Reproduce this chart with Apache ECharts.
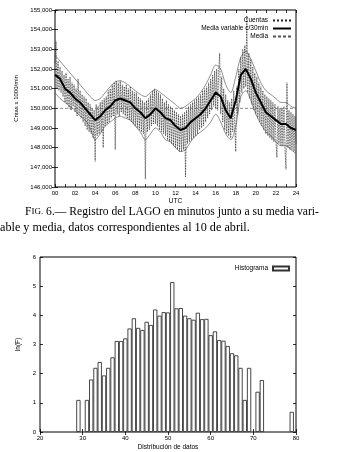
<!DOCTYPE html>
<html>
<head>
<meta charset="utf-8">
<script src="https://cdn.jsdelivr.net/npm/echarts@6/dist/echarts.min.js"></script>
<style>
html, body { margin: 0; padding: 0; background: #fff; }
#box { width: 340px; height: 452px; }
</style>
</head>
<body>
<div id="box"></div>
<script>
// --- datos: registro del LAGO (cuentas por minuto, muestreado cada 0.1 h) ---
var cuentas = [
  152300, 153400, 151000, 152400, 150900, 152100, 150800, 151900, 150600, 151700,
  150300, 151800, 150200, 151500, 150000, 151600, 149900, 151300, 150100, 151200,
  149800, 151000, 149600, 151500, 149700, 150900, 149500, 150700, 149300, 150600,
  149100, 150500, 148900, 150300, 148800, 150200, 148700, 150000, 148500, 149900,
  147300, 150200, 148600, 150100, 148700, 150300, 148800, 150400, 148000, 150500,
  149100, 150600, 149200, 150900, 149300, 151000, 149500, 151200, 149600, 151300,
  147900, 151400, 149700, 151300, 149600, 151400, 149800, 151200, 149700, 151100,
  149600, 151200, 149500, 151000, 149400, 151100, 149300, 150900, 149200, 150800,
  149100, 150800, 149000, 150600, 148900, 150500, 148800, 150400, 148700, 150300,
  146400, 150400, 148800, 150500, 148900, 150700, 149100, 150900, 149200, 151000,
  149200, 150900, 149100, 150800, 148900, 150700, 148800, 150500, 148700, 150300,
  148600, 150400, 148400, 150200, 148300, 150100, 148200, 150000, 148100, 149900,
  148000, 149800, 147900, 149700, 147800, 149600, 147800, 149700, 147900, 149800,
  146500, 149900, 148200, 150100, 148300, 150200, 148400, 150300, 148500, 150400,
  148600, 150500, 148700, 150600, 148900, 150700, 149000, 150900, 149100, 151000,
  149300, 151100, 149500, 151300, 149700, 151500, 149900, 151700, 150100, 151900,
  150000, 152000, 149900, 151900, 152800, 149700, 151600, 149300, 151000, 148900,
  150700, 148700, 150400, 148600, 150300, 148500, 150500, 148800, 150900, 149200,
  147800, 151100, 149700, 152000, 150300, 152600, 150800, 153000, 151000, 153200,
  151100, 154700, 150800, 152800, 150500, 152500, 150200, 152100, 149900, 151800,
  149700, 151600, 149500, 151300, 149300, 151100, 149100, 150900, 148900, 150700,
  148700, 150600, 148600, 150500, 148500, 150400, 148400, 150300, 148300, 150200,
  148300, 147500, 150100, 148200, 150000, 148100, 150000, 148100, 150100, 148000,
  146900, 151300, 148000, 149900, 147900, 149800, 147900, 149700, 147800, 149600,
  148200
];
// media variable cada 30 min (0, 0.5, ... 24 h)
var mediaVar = [
  151700, 151500, 151000, 150800, 150500, 150300, 150000, 149700, 149400, 149600,
  149900, 150100, 150400, 150500, 150400, 150300, 150000, 149800, 149500, 149700,
  150000, 149800, 149500, 149400, 149100, 148900, 149000, 149300, 149500, 149700,
  150000, 150400, 150800, 150600, 149900, 149500, 150400, 151700, 152000, 151500,
  150800, 150300, 149800, 149600, 149400, 149200, 149200, 149000, 148900
];
var bandaSup = [
  152700, 152400, 152100, 151800, 151500, 151200, 150900, 150600, 150400, 150500,
  150800, 151100, 151350, 151400, 151300, 151100, 150900, 150700, 150600, 150800,
  150950, 150800, 150600, 150400, 150200, 150000, 150100, 150300, 150500, 150800,
  151200, 151700, 152200, 152000, 151200, 150800, 151600, 152600, 152900, 152500,
  151900, 151300, 150900, 150700, 150500, 150300, 150300, 150100, 150000
];
var bandaInf = [
  150800, 150500, 150300, 150100, 149900, 149600, 149400, 149000, 148400, 148700,
  149100, 149300, 149500, 149600, 149500, 149400, 149100, 148800, 148400, 148700,
  149000, 148800, 148400, 148300, 148000, 147800, 147900, 148300, 148600, 148800,
  149000, 149300, 149700, 149300, 148700, 148400, 149100, 150600, 150900, 150400,
  149700, 149200, 148800, 148600, 148300, 148100, 148100, 147900, 147700
];
var media = 150000;

// --- histograma ln(F) ---
var histX = [29, 31, 32, 33, 34, 35, 36, 37, 38, 39, 40, 41, 42, 43, 44, 45, 46, 47, 48, 49, 50,
  51, 52, 53, 54, 55, 56, 57, 58, 59, 60, 61, 62, 63, 64, 65, 66, 67, 68, 69, 71, 72, 79];
var histY = [1.1, 1.1, 1.8, 2.2, 2.4, 1.94, 2.2, 2.56, 3.12, 3.12, 3.21, 3.55, 3.9, 3.57, 3.5, 3.78, 3.67, 4.2, 3.99, 4.11, 4.1,
  5.14, 4.24, 4.25, 3.99, 3.9, 3.85, 4.09, 3.87, 3.88, 3.32, 3.45, 3.15, 3.13, 2.95, 2.7, 2.63, 2.2, 1.1, 2.2, 1.38, 1.78, 0.69];

var myChart = echarts.init(document.getElementById('box'));

function pares(arr, paso) {
  var out = [];
  for (var i = 0; i < arr.length; i++) out.push([i * paso, arr[i]]);
  return out;
}
var histData = histX.map(function (x, i) { return [x, histY[i]]; });

var sans = 'Liberation Sans';
var lbl = { fontSize: 6, color: '#000', fontFamily: sans };
var tick = { show: true, inside: true, length: 3, lineStyle: { color: '#000', width: 0.8 } };
var noLine = { show: false };

function eje(extra) {
  var base = {
    type: 'value', axisLine: noLine, axisTick: tick, splitLine: { show: false },
    axisLabel: Object.assign({ margin: 3 }, lbl)
  };
  return Object.assign(base, extra);
}

var option = {
  animation: false,
  backgroundColor: '#fff',
  grid: [
    { left: 55, top: 10, width: 241, height: 177, show: true, borderColor: '#000', borderWidth: 1, backgroundColor: 'transparent' },
    { left: 40, top: 257, width: 256, height: 177, show: true, borderColor: '#000', borderWidth: 1, backgroundColor: 'transparent' }
  ],
  legend: [
    {
      data: ['Cuentas', 'Media variable c/30min', 'Media'],
      right: 43, top: 12, orient: 'vertical', align: 'right',
      itemWidth: 18, itemHeight: 5, itemGap: 1,
      itemStyle: { opacity: 0 },
      textStyle: { fontSize: 6.5, fontFamily: sans, color: '#000' }
    },
    {
      data: ['Histograma'],
      right: 45, top: 260, align: 'right', icon: 'rect',
      itemWidth: 16, itemHeight: 4,
      textStyle: { fontSize: 6.5, fontFamily: sans, color: '#000' }
    }
  ],
  xAxis: [
    eje({ gridIndex: 0, min: 0, max: 24, interval: 1, position: 'bottom',
      name: 'UTC', nameLocation: 'middle', nameGap: 11,
      nameTextStyle: { fontSize: 6.5, fontFamily: sans, color: '#000' },
      axisLabel: Object.assign({ margin: 3, formatter: function (v) { return v % 2 ? '' : (v < 10 ? '0' + v : '' + v); } }, lbl) }),
    eje({ gridIndex: 0, min: 0, max: 24, interval: 1, position: 'top', axisLabel: { show: false } }),
    eje({ gridIndex: 1, min: 20, max: 80, interval: 10, position: 'bottom',
      name: 'Distribución de datos', nameLocation: 'middle', nameGap: 12,
      nameTextStyle: { fontSize: 6.5, fontFamily: sans, color: '#000' } }),
    eje({ gridIndex: 1, min: 20, max: 80, interval: 10, position: 'top', axisLabel: { show: false } })
  ],
  yAxis: [
    eje({ gridIndex: 0, min: 146000, max: 155000, interval: 1000, position: 'left',
      name: 'Cntas x 1000/min', nameLocation: 'middle', nameGap: 26,
      nameTextStyle: { fontSize: 6, fontFamily: sans, color: '#000' } }),
    eje({ gridIndex: 0, min: 146000, max: 155000, interval: 1000, position: 'right', axisLabel: { show: false } }),
    eje({ gridIndex: 1, min: 0, max: 6, interval: 1, position: 'left',
      name: 'ln(F)', nameLocation: 'middle', nameGap: 15,
      nameTextStyle: { fontSize: 6.5, fontFamily: sans, color: '#000' },
      axisLabel: Object.assign({ margin: 4 }, lbl) }),
    eje({ gridIndex: 1, min: 0, max: 6, interval: 1, position: 'right', axisLabel: { show: false } })
  ],
  series: [
    {
      name: 'Cuentas', type: 'line', xAxisIndex: 0, yAxisIndex: 0, symbol: 'none',
      data: pares(cuentas, 0.1), color: '#222', itemStyle: { color: '#222' },
      lineStyle: { color: '#222', width: 0.8, type: 'dotted' }, z: 2
    },
    {
      name: 'banda sup', type: 'line', xAxisIndex: 0, yAxisIndex: 0, symbol: 'none', smooth: 0.3,
      data: pares(bandaSup, 0.5), color: '#444', lineStyle: { color: '#444', width: 0.6 }, z: 3
    },
    {
      name: 'banda inf', type: 'line', xAxisIndex: 0, yAxisIndex: 0, symbol: 'none', smooth: 0.3,
      data: pares(bandaInf, 0.5), color: '#444', lineStyle: { color: '#444', width: 0.6 }, z: 3
    },
    {
      name: 'Media variable c/30min', type: 'line', xAxisIndex: 0, yAxisIndex: 0, symbol: 'none',
      data: pares(mediaVar, 0.5), color: '#000', itemStyle: { color: '#000' },
      lineStyle: { color: '#000', width: 2 }, z: 4
    },
    {
      name: 'Media', type: 'line', xAxisIndex: 0, yAxisIndex: 0, symbol: 'none',
      data: [[0, media], [24, media]], color: '#555', itemStyle: { color: '#555' },
      lineStyle: { color: '#555', width: 0.7, type: [3, 2] }, z: 3
    },
    {
      name: 'Histograma', type: 'bar', xAxisIndex: 2, yAxisIndex: 2,
      data: histData, barWidth: 4.3,
      itemStyle: { color: '#fff', borderColor: '#333', borderWidth: 0.9 }
    }
  ],
  graphic: [
    {
      type: 'text', left: 25, top: 206,
      style: {
        text: '{a|F}{b|IG.}{a| 6.— Registro del LAGO en minutos junto a su media vari-}',
        rich: {
          a: { fontSize: 11.6, fontFamily: 'Liberation Serif', fill: '#000' },
          b: { fontSize: 9, fontFamily: 'Liberation Serif', fill: '#000' }
        }
      }
    },
    {
      type: 'text', left: 0, top: 222,
      style: { text: 'able y media, datos correspondientes al 10 de abril.', fontSize: 12.2, fontFamily: 'Liberation Serif', fill: '#000' }
    }
  ]
};

myChart.setOption(option);
</script>
</body>
</html>
